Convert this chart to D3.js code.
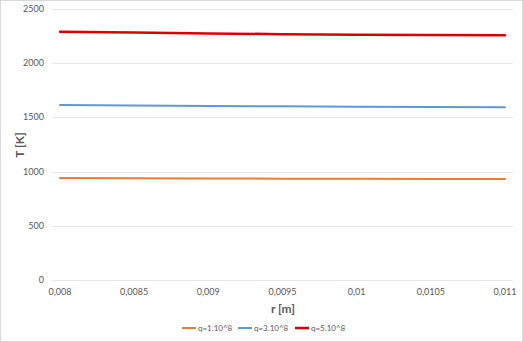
<!DOCTYPE html>
<html>
<head>
<meta charset="utf-8">
<script src="https://cdn.jsdelivr.net/npm/d3@7"></script>
<style>
  body { margin: 0; background: #fff; }
  svg { font-family: Lato, "Open Sans", sans-serif; }
</style>
</head>
<body>
<div id="chart"></div>
<script>
// data
let rValues = [0.008, 0.0085, 0.009, 0.0095, 0.01, 0.0105, 0.011];
let tQ1 = [940, 938, 936, 935, 933, 932, 931];
let tQ3 = [1614, 1610, 1606, 1602, 1598, 1596, 1594];
let tQ5 = [2290, 2283, 2275, 2268, 2263, 2260, 2258];
let seriesNames = ["q=1.10^8", "q=3.10^8", "q=5.10^8"];
let seriesColors = ["#ED7D31", "#5B9BD5", "#E00000"];
let xTicks = [0.008, 0.0085, 0.009, 0.0095, 0.01, 0.0105, 0.011];
let yTicks = [0, 500, 1000, 1500, 2000, 2500];

let width = 523, height = 342;

let svg = d3.select("#chart").append("svg")
    .attr("width", width)
    .attr("height", height);

// chart frame
svg.append("rect")
    .attr("x", 0.5).attr("y", 0.5)
    .attr("width", width - 1).attr("height", height - 1)
    .attr("fill", "#fff")
    .attr("stroke", "#d9d9d9");

let x = d3.scaleLinear().domain([0.008, 0.011]).range([60, 505]);
let y = d3.scaleLinear().domain([0, 2500]).range([280, 9]);

let gridLeft = 52, gridRight = 513;

// horizontal gridlines
svg.append("g").selectAll("line")
    .data(yTicks)
    .enter().append("line")
    .attr("x1", gridLeft).attr("x2", gridRight)
    .attr("y1", d => Math.round(y(d)) + 0.5)
    .attr("y2", d => Math.round(y(d)) + 0.5)
    .attr("stroke", "#e6e6e6")
    .attr("stroke-width", 1);

let fmt = d => String(d).replace(".", ",");

// y tick labels
svg.append("g").selectAll("text")
    .data(yTicks)
    .enter().append("text")
    .attr("x", 44)
    .attr("y", d => y(d) + 3)
    .attr("text-anchor", "end")
    .attr("font-size", 9)
    .attr("fill", "#595959")
    .text(d => d);

// x tick labels
svg.append("g").selectAll("text")
    .data(xTicks)
    .enter().append("text")
    .attr("x", d => x(d))
    .attr("y", 295)
    .attr("text-anchor", "middle")
    .attr("font-size", 9)
    .attr("fill", "#595959")
    .text(d => fmt(d));

// axis titles
svg.append("text")
    .attr("x", 283).attr("y", 313)
    .attr("text-anchor", "middle")
    .attr("font-size", 12)
    .attr("font-weight", "bold")
    .attr("fill", "#595959")
    .text("r [m]");

svg.append("text")
    .attr("transform", "translate(24,145) rotate(-90)")
    .attr("text-anchor", "middle")
    .attr("font-size", 12)
    .attr("font-weight", "bold")
    .attr("fill", "#595959")
    .text("T [K]");

// lines
let line = d3.line()
    .x((d, i) => x(rValues[i]))
    .y(d => y(d));

let allSeries = [tQ1, tQ3, tQ5];
svg.append("g").selectAll("path")
    .data(allSeries)
    .enter().append("path")
    .attr("d", d => line(d))
    .attr("fill", "none")
    .attr("stroke", (d, i) => seriesColors[i])
    .attr("stroke-width", (d, i) => i === 2 ? 2.5 : 2)
    .attr("stroke-linecap", "round");

// legend
let legendX = [182, 238, 295];
let legend = svg.append("g").selectAll("g")
    .data(seriesNames)
    .enter().append("g")
    .attr("transform", (d, i) => `translate(${legendX[i]}, 328)`);

legend.append("line")
    .attr("x1", 0).attr("x2", 14)
    .attr("y1", 0).attr("y2", 0)
    .attr("stroke", (d, i) => seriesColors[i])
    .attr("stroke-width", (d, i) => i === 2 ? 2.5 : 2);

legend.append("text")
    .attr("x", 16).attr("y", 3)
    .attr("font-size", 8)
    .attr("fill", "#595959")
    .text(d => d);
</script>
</body>
</html>
